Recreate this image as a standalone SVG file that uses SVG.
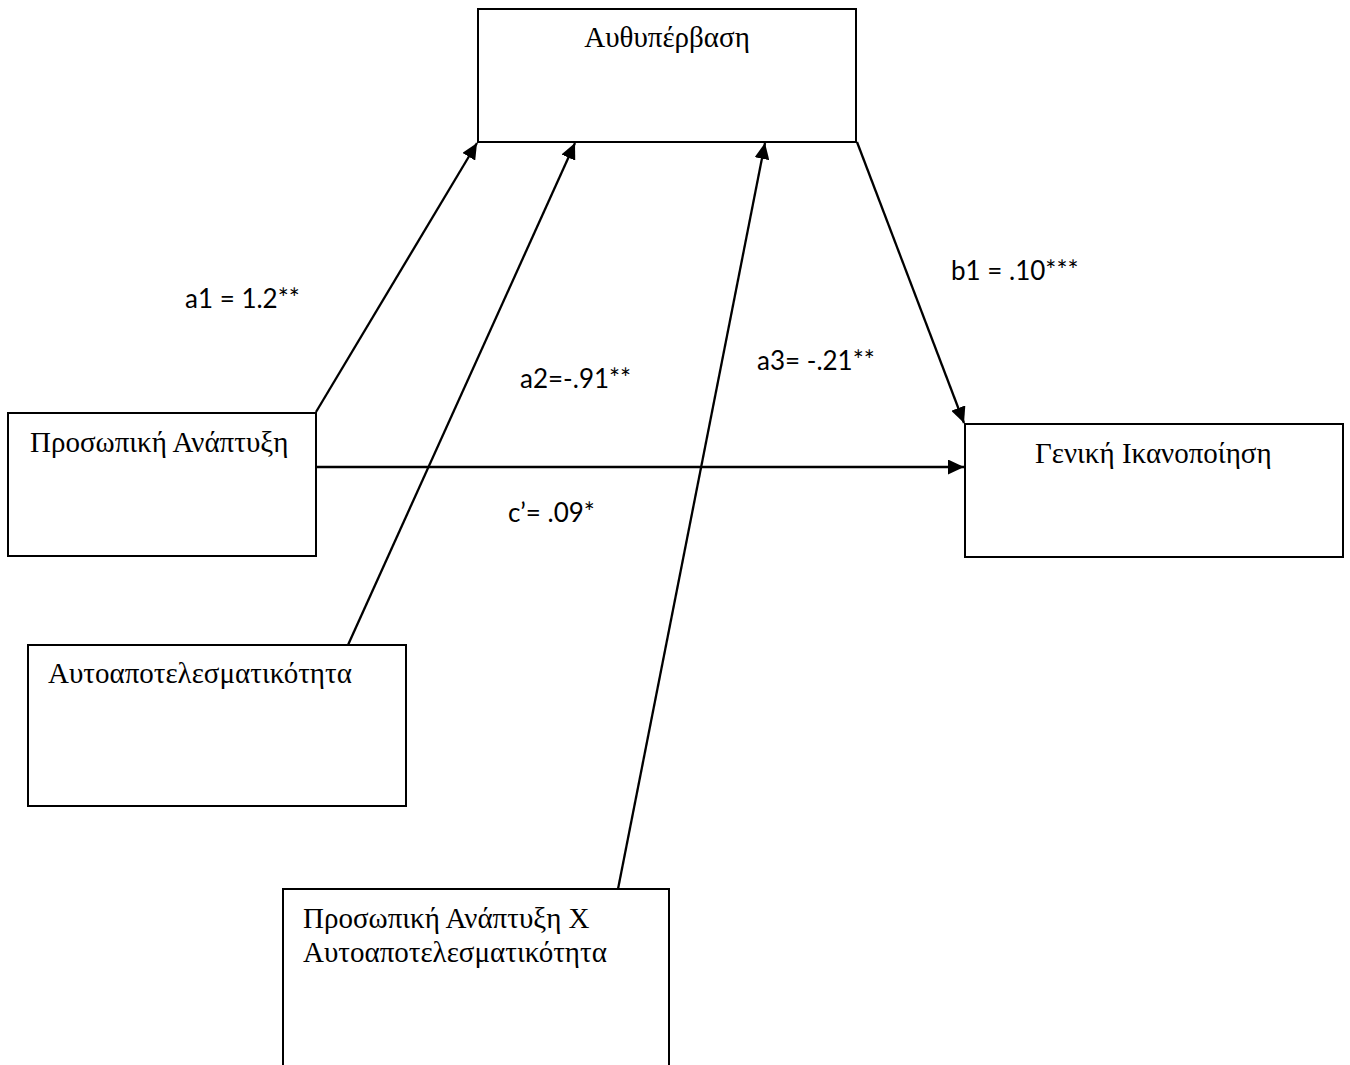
<svg xmlns="http://www.w3.org/2000/svg" width="1350" height="1065" viewBox="0 0 1350 1065">
  <style>
    .box { fill: #ffffff; stroke: #000000; stroke-width: 2; }
    .name { font-family: "Liberation Serif", "Times New Roman", serif; font-size: 29px; fill: #000000; }
    .edge { stroke: #000000; stroke-width: 2.3; fill: none; marker-end: url(#head); }
    .coef { font-family: Lato, "Open Sans", "Liberation Sans", sans-serif; font-size: 26px; fill: #000000; }
  </style>
  <defs>
    <marker id="head" viewBox="0 0 16 15" refX="16" refY="7.5" markerWidth="16" markerHeight="15" markerUnits="userSpaceOnUse" orient="auto">
      <path d="M0,0 L16,7.5 L0,15 Z" fill="#000000"/>
    </marker>
  </defs>
  <rect width="1350" height="1065" fill="#ffffff"/>

  <g id="node-self-transcendence">
    <rect class="box" x="478" y="9" width="378" height="133"/>
    <text class="name" x="667" y="47" text-anchor="middle">Αυθυπέρβαση</text>
  </g>

  <g id="node-personal-growth">
    <rect class="box" x="8" y="413" width="308" height="143"/>
    <text class="name" x="30" y="452">Προσωπική Ανάπτυξη</text>
  </g>

  <g id="node-general-satisfaction">
    <rect class="box" x="965" y="424" width="378" height="133"/>
    <text class="name" x="1035" y="463">Γενική Ικανοποίηση</text>
  </g>

  <g id="node-self-efficacy">
    <rect class="box" x="28" y="645" width="378" height="161"/>
    <text class="name" x="48" y="683">Αυτοαποτελεσματικότητα</text>
  </g>

  <g id="node-interaction">
    <rect class="box" x="283" y="889" width="386" height="190"/>
    <text class="name" x="303" y="928">Προσωπική Ανάπτυξη Χ</text>
    <text class="name" x="303" y="962">Αυτοαποτελεσματικότητα</text>
  </g>

  <g id="connectors">
    <line class="edge" x1="316" y1="412" x2="477" y2="143"/>
    <line class="edge" x1="348" y1="645" x2="575" y2="143"/>
    <line class="edge" x1="618" y1="889" x2="765" y2="143"/>
    <line class="edge" x1="857" y1="142" x2="964" y2="423"/>
    <line class="edge" x1="316" y1="467" x2="964" y2="467"/>
  </g>

  <g id="coefficients">
    <text class="coef" x="185" y="308">a1 = 1.2**</text>
    <text class="coef" x="520" y="388">a2=-.91**</text>
    <text class="coef" x="757" y="370">a3= -.21**</text>
    <text class="coef" x="951" y="280">b1 = .10***</text>
    <text class="coef" x="508" y="522">c’= .09*</text>
  </g>
</svg>
